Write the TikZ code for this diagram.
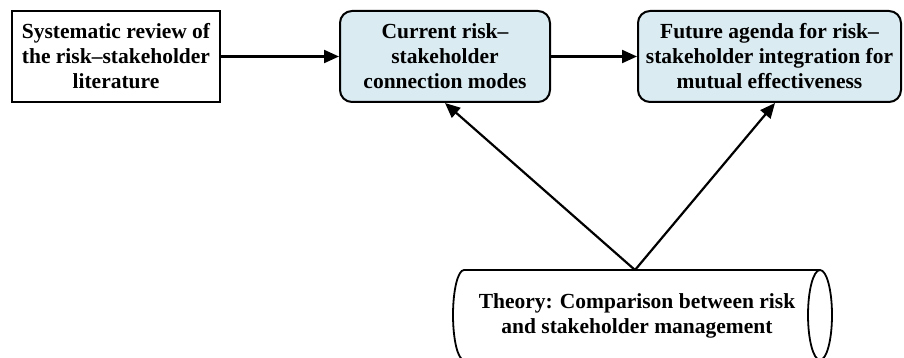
\documentclass[tikz,border=0pt]{standalone}
\usepackage{fontspec}
\setmainfont{Liberation Serif}
\usetikzlibrary{arrows.meta,calc}
\definecolor{boxblue}{HTML}{DAEBF2}
\tikzset{
  txt/.style={font=\bfseries\fontsize{21.5}{25}\selectfont, align=center, text=black},
  plainbox/.style={txt, draw=black, line width=2pt, rectangle, inner sep=0pt},
  roundbox/.style={txt, draw=black, line width=2pt, rounded corners=12pt, fill=boxblue, inner sep=0pt},
  conn/.style={line width=2.2pt, -{Triangle[length=15pt,width=13pt]}}
}
\begin{document}
\begin{tikzpicture}[x=1pt,y=-1pt]
\useasboundingbox (0,0) rectangle (904,358);
\node[plainbox, minimum width=208pt, minimum height=91pt] (b1) at (116,56.5)
  {Systematic review of\\the risk--stakeholder\\literature};
\node[roundbox, minimum width=210pt, minimum height=91pt] (b2) at (445,56.5)
  {Current risk--\\stakeholder\\connection modes};
\node[roundbox, minimum width=263pt, minimum height=91pt] (b3) at (769.5,56.5)
  {Future agenda for risk--\\stakeholder integration for\\mutual effectiveness};
% cylinder
\begin{scope}
\clip (0,0) rectangle (904,358);
\draw[line width=1.8pt] (820,270) -- (464,270)
  arc[start angle=-90, end angle=-270, x radius=11, y radius=45] -- (820,360);
\draw[line width=1.8pt] (820,315) ellipse[x radius=12, y radius=45];
\end{scope}
\node[txt] (theory) at (637,316) {Theory: Comparison between risk\\and stakeholder management};
\coordinate (apex) at (635,270);
\draw[conn] (b1.east) -- (b2.west);
\draw[conn] (b2.east) -- (b3.west);
\draw[conn] (apex) -- (b2.south);
\draw[conn] (apex) -- ($(b3.south)+(5.5,0)$);
\end{tikzpicture}
\end{document}
